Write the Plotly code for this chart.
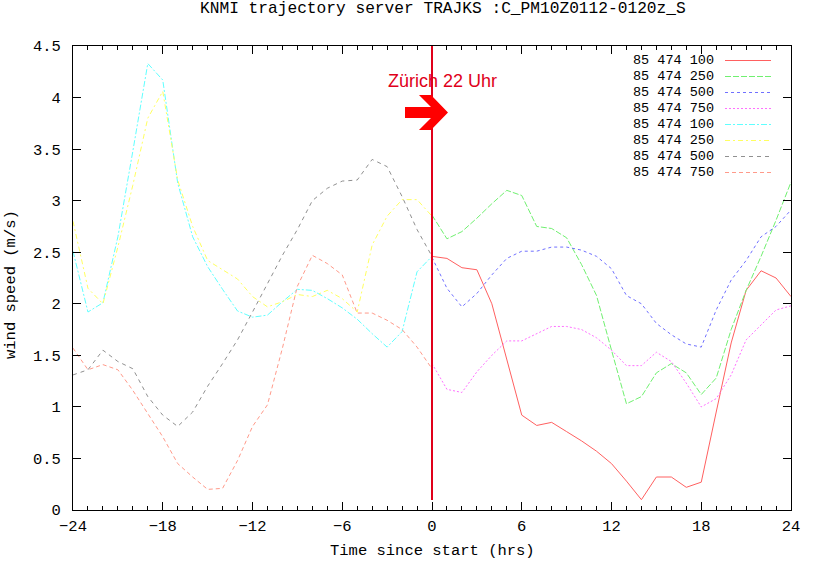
import plotly.graph_objects as go

# ---------------- data ----------------
hours_fwd = list(range(0, 25))
hours_bwd = list(range(-24, 1))

fwd_100 = [2.46, 2.44, 2.35, 2.33, 2.00, 1.47, 0.92, 0.82, 0.85, 0.76, 0.67, 0.57, 0.45,
           0.28, 0.10, 0.32, 0.32, 0.22, 0.27, 0.95, 1.62, 2.13, 2.32, 2.25, 2.07]
fwd_250 = [2.86, 2.63, 2.70, 2.83, 2.97, 3.10, 3.05, 2.75, 2.73, 2.64, 2.38, 2.08, 1.55,
           1.03, 1.10, 1.33, 1.42, 1.33, 1.12, 1.28, 1.75, 2.13, 2.46, 2.81, 3.18]
fwd_500 = [2.45, 2.15, 1.97, 2.10, 2.28, 2.44, 2.51, 2.51, 2.55, 2.55, 2.52, 2.46, 2.34,
           2.08, 2.00, 1.81, 1.70, 1.61, 1.58, 1.94, 2.23, 2.42, 2.65, 2.75, 2.91]
fwd_750 = [1.42, 1.17, 1.14, 1.34, 1.50, 1.64, 1.64, 1.71, 1.78, 1.78, 1.75, 1.67, 1.55,
           1.40, 1.40, 1.53, 1.44, 1.23, 1.00, 1.08, 1.31, 1.65, 1.79, 1.94, 1.98]

bwd_100 = [2.51, 1.92, 2.01, 2.65, 3.48, 4.33, 4.17, 3.17, 2.65, 2.36, 2.14, 1.93, 1.87,
           1.89, 2.02, 2.14, 2.13, 2.05, 1.96, 1.85, 1.71, 1.58, 1.73, 2.31, 2.46]
bwd_250 = [2.80, 2.15, 2.00, 2.55, 3.15, 3.80, 4.06, 3.20, 2.75, 2.42, 2.33, 2.24, 2.07,
           1.97, 2.02, 2.09, 2.07, 2.13, 2.05, 1.92, 2.57, 2.85, 3.01, 3.01, 2.85]
bwd_500 = [1.31, 1.36, 1.55, 1.44, 1.37, 1.10, 0.92, 0.81, 0.95, 1.20, 1.42, 1.65, 1.92,
           2.20, 2.47, 2.72, 3.00, 3.12, 3.19, 3.20, 3.40, 3.33, 3.04, 2.72, 2.46]
bwd_750 = [1.57, 1.36, 1.41, 1.36, 1.16, 0.94, 0.71, 0.45, 0.32, 0.20, 0.21, 0.48, 0.81,
           1.02, 1.57, 2.17, 2.47, 2.39, 2.28, 1.91, 1.91, 1.84, 1.75, 1.58, 1.37]

series_names = ["85 474 100", "85 474 250", "85 474 500", "85 474 750",
                "85 474 100", "85 474 250", "85 474 500", "85 474 750"]
series_x = [hours_fwd] * 4 + [hours_bwd] * 4
series_y = [fwd_100, fwd_250, fwd_500, fwd_750, bwd_100, bwd_250, bwd_500, bwd_750]

x_tick_vals = [-24, -18, -12, -6, 0, 6, 12, 18, 24]
y_tick_vals = [0, 0.5, 1, 1.5, 2, 2.5, 3, 3.5, 4, 4.5]
y_tick_text = ["0", "0.5", "1", "1.5", "2", "2.5", "3", "3.5", "4", "4.5"]

title_text = "KNMI trajectory server TRAJKS :C_PM10Z0112-0120z_S"
marker_text = "Zürich 22 Uhr"
marker_hour = 0

# ---------------- styles ----------------
colors = ["#ff6060", "#70f070", "#7070ff", "#ff70ff",
          "#60ffff", "#ffff60", "#909090", "#ff9a8a"]
dashes = ["solid", "6px,2px", "3px,3px", "2px,2px",
          "6px,2px,2px,2px", "5px,3px,2px,3px", "4px,4px", "4px,3px"]

MONO = "Liberation Mono"
FS = 15.5
LEG_FS = 13.5
W, H = 814, 563
L, R, T, B = 73, 791, 46, 510  # plot area pixels


def px2paper_x(px):
    return (px - L) / (R - L)


def py2paper_y(py):
    return (B - py) / (B - T)


fig = go.Figure()
for xs, ys, c, d in zip(series_x, series_y, colors, dashes):
    fig.add_trace(go.Scatter(x=xs, y=ys, mode="lines",
                             line=dict(color=c, width=1, dash=d),
                             showlegend=False, hoverinfo="skip"))

shapes = []
annotations = []

# manual legend (text left, line sample right)
row0, row_step = 60.5, 16.0
for i, (name, c, d) in enumerate(zip(series_names, colors, dashes)):
    py = row0 + i * row_step
    annotations.append(dict(x=px2paper_x(715), y=py2paper_y(py), xref="paper", yref="paper",
                            text=name.replace(" ", "&nbsp;"), showarrow=False,
                            xanchor="right", yanchor="middle", borderpad=0,
                            font=dict(family=MONO, size=LEG_FS, color="black")))
    shapes.append(dict(type="line", xref="paper", yref="paper",
                       x0=px2paper_x(725), x1=px2paper_x(771),
                       y0=py2paper_y(py), y1=py2paper_y(py),
                       line=dict(color=c, width=1, dash=d)))

# vertical marker line
shapes.append(dict(type="line", xref="x", yref="paper", x0=marker_hour, x1=marker_hour,
                   y0=py2paper_y(500), y1=1, line=dict(color="#e0001a", width=2)))

# arrow (paper coords from pixel outline)
arrow_px = [(405, 107), (431, 107), (419, 95), (431, 95), (448, 112.5),
            (431, 130), (419, 130), (431, 118), (405, 118)]
path = "M " + " L ".join(f"{px2paper_x(a):.5f},{py2paper_y(b):.5f}" for a, b in arrow_px) + " Z"
shapes.append(dict(type="path", xref="paper", yref="paper", path=path,
                   fillcolor="#ff0000", line=dict(width=0)))

annotations.append(dict(x=px2paper_x(442.5), y=py2paper_y(80.5), xref="paper", yref="paper",
                        text=marker_text, showarrow=False, xanchor="center", yanchor="middle",
                        font=dict(family="Liberation Sans", size=18, color="#e0001a")))

# title and axis titles
annotations.append(dict(x=px2paper_x(443), y=py2paper_y(9), xref="paper", yref="paper",
                        text=title_text, showarrow=False, xanchor="center", yanchor="middle",
                        font=dict(family=MONO, size=16.2, color="black")))
annotations.append(dict(x=px2paper_x(432), y=py2paper_y(551), xref="paper", yref="paper",
                        text="Time since start (hrs)", showarrow=False, xanchor="center",
                        yanchor="middle", font=dict(family=MONO, size=FS, color="black")))
annotations.append(dict(x=px2paper_x(11), y=py2paper_y(285), xref="paper", yref="paper",
                        text="wind speed (m/s)", showarrow=False, textangle=-90,
                        xanchor="center", yanchor="middle",
                        font=dict(family=MONO, size=FS, color="black")))

fig.update_layout(
    width=W, height=H,
    margin=dict(l=L, r=W - R, t=T, b=H - B, pad=0),
    paper_bgcolor="white", plot_bgcolor="white",
    showlegend=False,
    shapes=shapes, annotations=annotations,
    font=dict(family=MONO, size=FS, color="black"),
)
fig.update_xaxes(range=[-24, 24], tickvals=x_tick_vals, ticks="inside", ticklen=8,
                 tickcolor="black", showline=True, linecolor="black", linewidth=1,
                 mirror="ticks", showgrid=False, zeroline=False,
                 minor=dict(dtick=1, ticks="inside", ticklen=4, tickcolor="black", showgrid=False),
                 tickfont=dict(family=MONO, size=FS), ticklabelstandoff=1)
fig.update_yaxes(range=[0, 4.5], tickvals=y_tick_vals, ticktext=y_tick_text, ticks="inside",
                 ticklen=8, tickcolor="black", showline=True, linecolor="black", linewidth=1,
                 mirror="ticks", showgrid=False, zeroline=False,
                 tickfont=dict(family=MONO, size=FS), ticklabelstandoff=8)

fig.write_html("out.html", config={"displayModeBar": False},
               post_script="document.body.style.margin='0px';document.body.style.overflow='hidden';")
